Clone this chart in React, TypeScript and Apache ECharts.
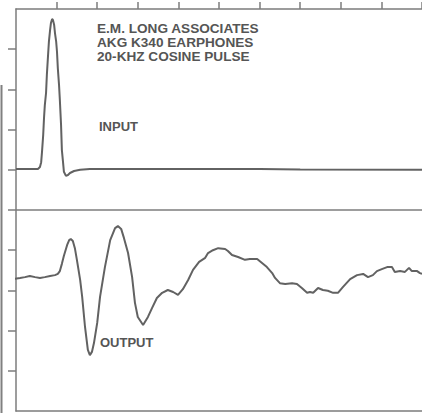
import React, { useEffect, useRef } from "react";
import * as echarts from "echarts";

// time in microseconds (100 µs per division), amplitude in divisions
const inputTime = [0, 34, 54, 59, 62, 64, 67, 69, 71, 74, 76, 79, 81, 84, 86, 89, 91, 94, 96, 99, 101, 103, 106, 108, 111, 113, 116, 118, 123, 128, 133, 143, 158, 182, 601, 700, 1000];
const inputValue = [1.02, 1.02, 1.02, 1.07, 1.19, 1.44, 1.87, 2.29, 2.61, 2.91, 3.36, 3.86, 4.18, 4.48, 4.65, 4.75, 4.73, 4.6, 4.4, 4.18, 3.93, 3.53, 3.11, 2.74, 2.11, 1.49, 1.17, 0.95, 0.85, 0.87, 0.92, 0.97, 1.0, 1.02, 1.02, 1.01, 1.0];

const outputTime = [-10, 10, 22, 34, 47, 59, 71, 84, 96, 103, 108, 113, 118, 126, 131, 135, 140, 145, 150, 158, 163, 170, 177, 182, 187, 192, 200, 207, 219, 232, 244, 251, 259, 266, 276, 286, 293, 300, 313, 325, 335, 347, 360, 374, 387, 399, 411, 424, 436, 451, 466, 473, 485, 498, 515, 522, 532, 547, 564, 576, 594, 606, 618, 631, 638, 650, 663, 680, 692, 704, 717, 724, 732, 744, 756, 768, 781, 793, 805, 823, 840, 855, 867, 879, 889, 901, 914, 926, 933, 946, 958, 968, 975, 988, 995, 1000];
const outputValue = [-1.72, -1.69, -1.67, -1.64, -1.67, -1.69, -1.67, -1.64, -1.62, -1.59, -1.52, -1.34, -1.14, -0.87, -0.75, -0.72, -0.77, -0.95, -1.24, -1.74, -2.16, -2.91, -3.48, -3.61, -3.53, -3.31, -2.81, -2.16, -1.42, -0.75, -0.45, -0.4, -0.47, -0.7, -1.07, -1.67, -2.31, -2.66, -2.86, -2.66, -2.44, -2.19, -2.06, -1.99, -2.04, -2.11, -1.97, -1.74, -1.49, -1.29, -1.19, -1.07, -1.0, -0.95, -0.97, -1.02, -1.12, -1.17, -1.24, -1.22, -1.22, -1.32, -1.42, -1.57, -1.69, -1.82, -1.84, -1.82, -1.84, -1.94, -2.06, -2.04, -2.06, -1.94, -1.99, -2.01, -2.06, -2.06, -1.92, -1.72, -1.62, -1.59, -1.67, -1.62, -1.52, -1.47, -1.42, -1.42, -1.54, -1.52, -1.54, -1.44, -1.52, -1.52, -1.57, -1.59];

const xTicks = [100, 200, 300, 400, 500, 600, 700, 800, 900, 1000];
const yTicks = [-4, -3, -2, -1, 0, 1, 2, 3, 4];

const titleLines = ["E.M. LONG ASSOCIATES", "AKG K340 EARPHONES", "20-KHZ COSINE PULSE"];
const inputLabel = "INPUT";
const outputLabel = "OUTPUT";

const FRAME = "#7c7c7c";
const TRACE = "#626262";
const TEXT = "#555555";
const TITLE_FONT = "bold 13.6px 'Liberation Sans', Arial, sans-serif";
const FONT = "bold 13px 'Liberation Sans', Arial, sans-serif";

export default function App() {
  const ref = useRef<HTMLDivElement>(null);
  useEffect(() => {
    if (!ref.current) return;
    const chart = echarts.init(ref.current, null, { renderer: "svg" });
    const inputData = inputTime.map((t, i) => [t, inputValue[i]]);
    const outputData = outputTime.map((t, i) => [t, outputValue[i]]);
    chart.setOption({
      animation: false,
      backgroundColor: "#ffffff",
      grid: { left: 16, right: 0, top: 9, bottom: 2 },
      xAxis: [
        {
          type: "value",
          position: "top",
          min: 0,
          max: 1000,
          interval: 100,
          axisLine: { show: true, onZero: false, lineStyle: { color: FRAME, width: 1.5 } },
          axisTick: { show: true, inside: false, length: 7, customValues: xTicks, lineStyle: { color: FRAME, width: 1.5 } },
          axisLabel: { show: false },
          splitLine: { show: false },
        },
        {
          type: "value",
          position: "bottom",
          min: 0,
          max: 1000,
          axisLine: { show: true, onZero: false, lineStyle: { color: FRAME, width: 1.5 } },
          axisTick: { show: false },
          axisLabel: { show: false },
          splitLine: { show: false },
        },
      ],
      yAxis: {
        type: "value",
        min: -5,
        max: 5,
        interval: 1,
        axisLine: { show: true, onZero: false, lineStyle: { color: FRAME, width: 1.5 } },
        axisTick: { show: true, inside: false, length: 8, customValues: yTicks, lineStyle: { color: FRAME, width: 1.5 } },
        axisLabel: { show: false },
        splitLine: { show: false },
      },
      series: [
        {
          type: "line",
          data: inputData,
          showSymbol: false,
          clip: false,
          lineStyle: { color: TRACE, width: 2 },
          markLine: {
            silent: true,
            symbol: "none",
            label: { show: false },
            lineStyle: { type: "solid", color: FRAME, width: 1.5 },
            data: [{ yAxis: 0 }],
          },
        },
        {
          type: "line",
          data: outputData,
          showSymbol: false,
          clip: false,
          lineStyle: { color: TRACE, width: 2 },
        },
      ],
      graphic: [
        {
          type: "line",
          shape: { x1: 1.5, y1: 85, x2: 1.5, y2: 413 },
          style: { stroke: "#808080", lineWidth: 2 },
        },
        ...titleLines.map((t, i) => ({
          type: "text",
          x: 97,
          y: 28.5 + i * 14.2,
          style: { text: t, font: TITLE_FONT, fill: TEXT, textVerticalAlign: "middle" },
        })),
        {
          type: "text",
          x: 99,
          y: 126.5,
          style: { text: inputLabel, font: FONT, fill: TEXT, textVerticalAlign: "middle" },
        },
        {
          type: "text",
          x: 100,
          y: 342,
          style: { text: outputLabel, font: FONT, fill: TEXT, textVerticalAlign: "middle" },
        },
      ],
    });
    return () => chart.dispose();
  }, []);
  return (
    <div
      ref={ref}
      style={{ position: "absolute", left: 0, top: 0, width: 422, height: 413 }}
    />
  );
}
